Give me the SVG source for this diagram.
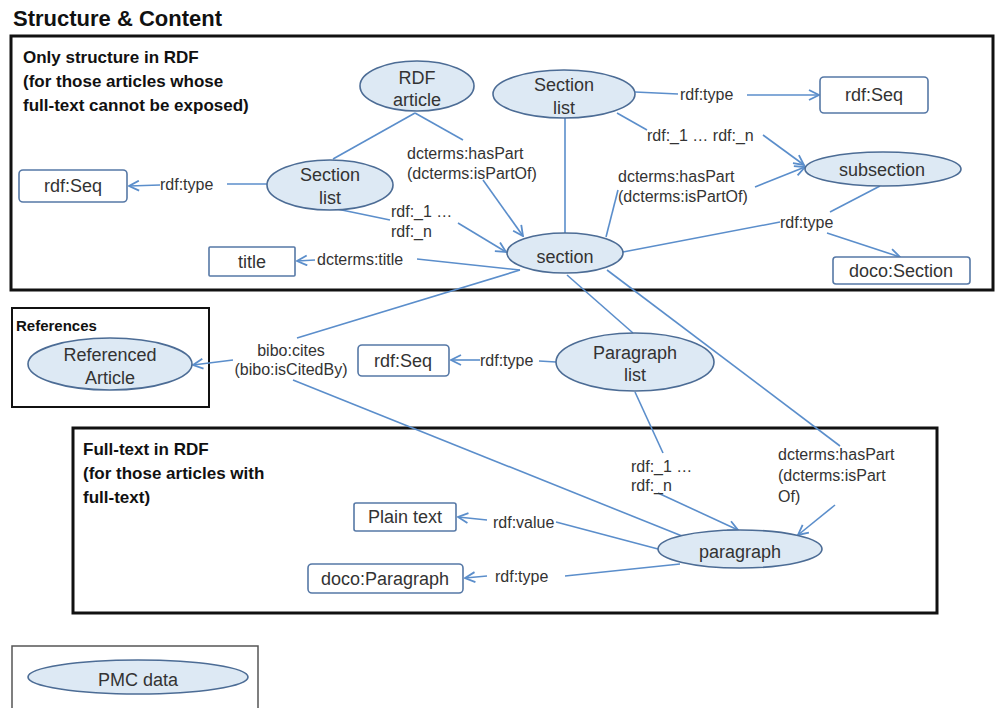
<svg xmlns="http://www.w3.org/2000/svg" width="996" height="708" viewBox="0 0 996 708">
<style>
text{font-family:"Liberation Sans",Arial,sans-serif;fill:#333}
.h{font-size:22px;font-weight:bold;fill:#111}
.bt{font-size:17px;font-weight:bold;fill:#111}
.bs{font-size:15px;font-weight:bold;fill:#111}
.n{font-size:18px;text-anchor:middle}
.l{font-size:16px}
.lm{font-size:16px;text-anchor:middle}
.box{fill:none;stroke:#111;stroke-width:3}
.ell{fill:#dde9f4;stroke:#4c6c95;stroke-width:1.6}
.rr{fill:#fff;stroke:#5678a6;stroke-width:1.6}
.c{fill:none;stroke:#5b8ecb;stroke-width:1.6}
.a{fill:none;stroke:#5b8ecb;stroke-width:1.6;marker-end:url(#arr)}
</style>
<defs>
<marker id="arr" viewBox="0 0 12 12" refX="11" refY="6" markerWidth="12" markerHeight="12" markerUnits="userSpaceOnUse" orient="auto">
<path d="M1,1 L11,6 L1,11" fill="none" stroke="#5b8ecb" stroke-width="1.8"/>
</marker>
</defs>
<rect width="996" height="708" fill="#fff"/>

<text class="h" x="13" y="26">Structure &amp; Content</text>

<g id="box-structure">
<rect class="box" x="11" y="36" width="982" height="254"/>
<text class="bt" x="23" y="63">Only structure in RDF</text>
<text class="bt" x="23" y="87">(for those articles whose</text>
<text class="bt" x="23" y="111">full-text cannot be exposed)</text>
</g>
<g id="box-references">
<rect x="12" y="308" width="197" height="99" fill="none" stroke="#111" stroke-width="2"/>
<text class="bs" x="16" y="331">References</text>
</g>
<g id="box-fulltext">
<rect class="box" x="73" y="428" width="864" height="185"/>
<text class="bt" x="83" y="455">Full-text in RDF</text>
<text class="bt" x="83" y="479">(for those articles with</text>
<text class="bt" x="83" y="503">full-text)</text>
</g>
<g id="box-legend">
<rect x="12" y="646" width="246" height="72" fill="none" stroke="#555" stroke-width="1.5"/>
</g>

<g id="connectors">
<path class="c" d="M415,113 L333,159"/>
<path class="c" d="M415,113 L463,140"/>
<path class="a" d="M483,180 L523,236"/>
<text class="l" x="407" y="159">dcterms:hasPart</text>
<text class="l" x="407" y="179">(dcterms:isPartOf)</text>

<path class="c" d="M267,184 L227,184"/>
<path class="a" d="M160,185 L129,186"/>
<text class="l" x="160" y="190">rdf:type</text>

<path class="c" d="M337,209 L390,220"/>
<path class="a" d="M458,223 L506,252"/>
<text class="l" x="391" y="217">rdf:_1 …</text>
<text class="l" x="391" y="237">rdf:_n</text>

<path class="c" d="M520,270 L417,259"/>
<path class="a" d="M315,260 L297,261"/>
<text class="l" x="317" y="265">dcterms:title</text>

<path class="c" d="M565,118 L565,233"/>

<path class="c" d="M635,92 L678,94"/>
<path class="a" d="M747,95 L819,95"/>
<text class="l" x="680" y="100">rdf:type</text>

<path class="c" d="M617,113 L647,130"/>
<path class="a" d="M763,135 L804,165"/>
<text class="l" x="647" y="141">rdf:_1 … rdf:_n</text>

<path class="c" d="M606,237 L618,190"/>
<path class="a" d="M755,187 L805,167"/>
<text class="l" x="618" y="182">dcterms:hasPart</text>
<text class="l" x="618" y="202">(dcterms:isPartOf)</text>

<path class="c" d="M880,186 L830,212"/>
<path class="c" d="M623,252 L780,222"/>
<path class="a" d="M827,233 L900,257"/>
<text class="l" x="780" y="228">rdf:type</text>

<path class="c" d="M520,270 L297,338"/>
<path class="a" d="M233,360 L193,365"/>
<text class="lm" x="291" y="356">bibo:cites</text>
<text class="lm" x="291" y="375">(bibo:isCitedBy)</text>
<path class="c" d="M293,380 L682,536"/>

<path class="c" d="M567,275 L633,333"/>

<path class="c" d="M607,270 L840,446"/>
<path class="a" d="M835,505 L798,535"/>
<text class="l" x="778" y="460">dcterms:hasPart</text>
<text class="l" x="778" y="481">(dcterms:isPart</text>
<text class="l" x="778" y="502">Of)</text>

<path class="c" d="M556,362 L539,361"/>
<path class="a" d="M480,360 L451,360"/>
<text class="l" x="480" y="366">rdf:type</text>

<path class="c" d="M635,392 L663,453"/>
<path class="a" d="M658,493 L738,530"/>
<text class="l" x="631" y="472">rdf:_1 …</text>
<text class="l" x="631" y="491">rdf:_n</text>

<path class="c" d="M658,549 L556,522"/>
<path class="a" d="M487,520 L458,517"/>
<text class="l" x="493" y="528">rdf:value</text>

<path class="c" d="M680,564 L565,576"/>
<path class="a" d="M487,576 L465,578"/>
<text class="l" x="495" y="582">rdf:type</text>
</g>

<g id="rdf-article"><ellipse class="ell" cx="417" cy="86" rx="57" ry="25"/><text class="n" x="417" y="84">RDF</text><text class="n" x="417" y="106">article</text></g>
<g id="section-list-top"><ellipse class="ell" cx="564" cy="94" rx="71" ry="24"/><text class="n" x="564" y="91">Section</text><text class="n" x="564" y="114">list</text></g>
<g id="section-list-left"><ellipse class="ell" cx="330" cy="185" rx="63" ry="25"/><text class="n" x="330" y="181">Section</text><text class="n" x="330" y="204">list</text></g>
<g id="rdfseq-left"><rect class="rr" x="19" y="170" width="108" height="32" rx="4"/><text class="n" x="73" y="192">rdf:Seq</text></g>
<g id="rdfseq-top"><rect class="rr" x="820" y="77" width="108" height="36" rx="4"/><text class="n" x="874" y="101">rdf:Seq</text></g>
<g id="subsection"><ellipse class="ell" cx="883" cy="169" rx="78" ry="17"/><text class="n" x="882" y="176">subsection</text></g>
<g id="doco-section"><rect class="rr" x="833" y="257" width="137" height="27" rx="3"/><text class="n" x="901" y="277">doco:Section</text></g>
<g id="section"><ellipse class="ell" cx="565" cy="253" rx="58" ry="20"/><text class="n" x="565" y="263">section</text></g>
<g id="title"><rect class="rr" x="209" y="247" width="86" height="29" rx="1"/><text class="n" x="252" y="268">title</text></g>
<g id="referenced-article"><ellipse class="ell" cx="110" cy="364" rx="82" ry="26"/><text class="n" x="110" y="361">Referenced</text><text class="n" x="110" y="384">Article</text></g>
<g id="rdfseq-mid"><rect class="rr" x="358" y="345" width="91" height="31" rx="4"/><text class="n" x="403" y="367">rdf:Seq</text></g>
<g id="paragraph-list"><ellipse class="ell" cx="635" cy="362" rx="79" ry="29"/><text class="n" x="635" y="359">Paragraph</text><text class="n" x="635" y="381">list</text></g>
<g id="paragraph"><ellipse class="ell" cx="740" cy="549" rx="82" ry="19"/><text class="n" x="740" y="558">paragraph</text></g>
<g id="plain-text"><rect class="rr" x="354" y="503" width="102" height="28" rx="2"/><text class="n" x="405" y="523">Plain text</text></g>
<g id="doco-paragraph"><rect class="rr" x="308" y="564" width="155" height="29" rx="4"/><text class="n" x="385" y="585">doco:Paragraph</text></g>
<g id="pmc-data"><ellipse class="ell" cx="138" cy="677" rx="110" ry="17"/><text class="n" x="138" y="686">PMC data</text></g>
</svg>
